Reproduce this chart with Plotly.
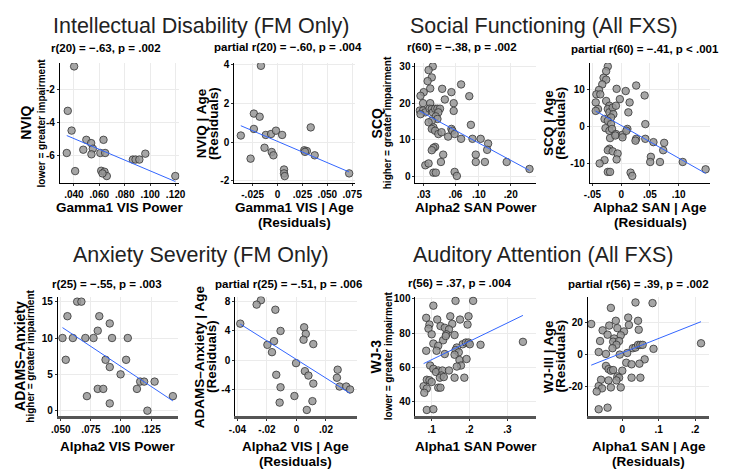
import numpy as np
import plotly.graph_objects as go

W, H = 733, 470

# ---------------- DATA ----------------
# Panel 1: Intellectual Disability (FM only) - raw
p1_x = [.0402, .0352, .0382, .0498, .0536, .0633, .0549, .0474, .0344, .0538, .0608,
        .0646, .0864, .0885, .0915, .0962, .0410, .0615, .0641, .0659, .1198, .0625]
p1_y = [-0.6, -3.3, -4.5, -5.06, -5.26, -5.06, -5.6, -5.66, -5.86, -5.94, -5.86,
        -5.86, -6.26, -6.26, -6.26, -5.9, -6.96, -6.94, -7.0, -7.26, -7.26, -7.1]
# Panel 2: residuals
p2_x = [-.0167, -.0238, -.0180, -.0369, -.0238, -.0118, -.0065, -.0016, .0046, -.0131, -.0059,
        -.0042, -.0271, .0333, .0268, .0294, .0373, .0065, .0065, .0072, .0719, .0275]
p2_y = [3.93, 1.47, 1.31, 0.34, 0.68, 0.37, 0.42, 0.59, 0.37, -0.29, -0.51,
        -0.68, -0.85, 0.76, -0.42, -0.46, -0.68, -1.41, -1.61, -1.75, -1.61, -0.5]
# Panel 3: Social functioning - raw (log x)
p3_x = [.0366, .0334, .0358, .0327, .0346, .0300, .0280, .0296, .0276, .0296, .0311, .0280,
        .0346, .0341, .0358, .0366, .0385, .0405, .0428, .0413, .0391, .0405, .0358, .0334,
        .0371, .0358, .0385, .0413, .0443, .0449, .0476, .0549, .0577, .0577, .0549, .0561,
        .0511, .0589, .0678, .0810, .0678, .0839, .0869, .1038, .0933, .0933, .1221, .1196,
        .1138, .1829, .3006, .0459, .0437, .0385, .0371, .0358, .0311, .0334, .0371, .0391,
        .0589, .0618]
p3_y = [30, 29, 27, 26, 24, 23, 22, 20, 18, 18, 17.5, 17,
        20, 18.5, 18.4, 17.5, 18.5, 18.5, 18.5, 17.5, 16.4, 15.7, 15.2, 14.8,
        13.4, 13, 12.5, 11.6, 12.1, 23.9, 21, 23, 20, 17.9, 13, 12.5,
        10.9, 11.6, 25.1, 21.9, 10.3, 14.1, 10.3, 10.3, 6, 4, 9, 7.3,
        4, 4, 2.1, 6, 4, 8.1, 7.8, 7.2, 3.1, 3.6, 1.1, 1.1,
        1.3, 0.2]
# Panel 4: residuals
p4_x = [-.0232, -.0261, -.0306, -.0261, -.0329, -.0385, -.0431, -.0363, -.0442, -.0403,
        -.0442, -.0261, -.0204, -.0232, -.0204, -.0147, -.0136, -.0091, -.0176, -.0289,
        -.0232, -.0176, -.0272, -.0204, -.0159, -.0091, -.0193, -.0102, .0023, -.0079,
        -.0023, .0079, .0147, .0125, .0108, .0091, .0023, .0261, .0408, .0261,
        .0420, .0420, .0561, .0516, .0505, .0748, .0731, .0675, .1071, .1468,
        -.0204, -.0232, -.0147, -.0062, -.0079, -.0289, -.0374, -.0232, -.0193, .0164,
        .0193, .0249]
p4_y = [16.3, 15.0, 13.2, 12.7, 11.4, 9.9, 8.7, 8.7, 6.5, 4.7,
        4.2, 6.9, 5.6, 4.7, 3.8, 5.1, 3.3, 5.6, 2.4, 2.0,
        1.5, 0.6, -0.5, -1.2, -0.7, -2.1, -3.2, -2.5, -2.3, 10.2,
        7.4, 9.6, 6.5, 3.8, -0.7, -1.2, -3.0, 11.1, 8.4, -3.4,
        0.6, -3.4, -4.3, -8.3, -9.7, -4.5, -6.5, -9.7, -9.7, -11.7,
        -6.1, -6.5, -6.8, -7.4, -9.0, -9.2, -10.1, -12.4, -12.4, -12.6,
        -13.5, -3.9]
# Panel 5: Anxiety severity - raw
p5_x = [.0636, .0671, .0555, .0820, .0907, .0807, .0514, .0600, .0704, .0772, .0926,
        .1057, .0541, .0872, .1043, .0907, .0997, .1160, .1193, .1280, .1133, .0807,
        .0853, .0717, .0907, .1432, .1220]
p5_y = [15, 15, 13, 13, 12, 11, 10, 10, 10, 10, 10,
        10, 7, 7, 7, 6, 5, 4, 4, 4, 3, 3,
        3, 2, 1, 2, 0]
# Panel 6: residuals
p6_x = [-.0241, -.0270, -.0143, -.0381, -.0108, -.0152, -.0197, -.0166, .0052, .0063,
        .0048, .0114, -.0003, .0057, .0081, -.0137, -.0108, .0114, -.0014, -.0114,
        .0108, .0070, .0279, .0274, .0292, .0337, .0363]
p6_y = [8.2, 7.6, 6.9, 5.0, 4.0, 2.6, 2.1, 1.1, 4.5, 3.6,
        2.8, 2.2, -0.4, -1.5, -2.1, -2.0, -3.7, -3.2, -4.9, -5.8,
        -5.6, -6.8, -1.3, -2.4, -3.6, -3.6, -4.0]
# Panel 7: Auditory attention - raw
p7_x = [.1044, .1630, .2096, .0855, .1147, .1491, .1974, .1749, .0941, .1233,
        .1543, .1948, .0915, .1000, .1346, .1457, .1388, .1302, .1044, .1173,
        .1372, .1605, .1819, .1904, .1974, .2008, .2292, .3413, .0855, .1129,
        .1346, .1664, .1630, .1716, .1605, .1734, .1922, .0959, .1044, .1173,
        .1114, .1284, .1457, .1775, .1664, .1258, .1217, .1320, .1605, .1863,
        .0871, .0941, .1000, .0786, .0871, .1173, .1233, .0804, .0871, .1044]
p7_y = [96.0, 98.8, 98.8, 88.9, 87.9, 89.8, 89.8, 87.9, 85.0, 84.1,
        85.4, 85.0, 82.6, 79.3, 83.1, 82.2, 79.3, 75.8, 73.9, 72.6,
        78.3, 78.9, 73.5, 74.5, 74.5, 73.5, 73.2, 74.9, 69.7, 69.7,
        67.8, 71.6, 70.1, 68.8, 67.4, 64.3, 64.9, 61.1, 59.2, 58.2,
        57.3, 58.2, 58.2, 61.1, 60.5, 55.3, 54.0, 54.4, 54.0, 54.0,
        52.8, 52.5, 51.5, 49.0, 47.7, 48.2, 48.2, 45.2, 35.2, 35.6]
# Panel 8: residuals
p8_x = [-.0314, .0362, .0830, -.0178, .0162, .0432, -.0854, -.0359, -.0135, .0181,
        .0451, -.0541, -.0405, .0046, -.0043, -.0224, -.0611, -.0251, -.0089, -.0162,
        -.0270, -.0649, -.0449, -.0070, .0135, .0289, .0362, .0432, .0497, .0559,
        .0857, .2162, .0614, .0108, .0254, .0470, -.0449, -.0378, -.0314, -.0251,
        .0000, -.0135, -.0089, -.0162, -.0584, -.0649, -.0557, -.0378, -.0314, -.0043,
        .0254, .0497, -.0649, -.0405, -.0703]
p8_y = [29.3, 32.7, 32.3, 21.2, 23.2, 21.2, 19.2, 18.2, 16.6, 18.6,
        15.6, 15.2, 12.5, 14.5, 12.1, 10.1, 8.5, 8.1, 8.5, 6.1,
        4.0, 1.6, 0.4, 0.0, 1.0, 4.0, 4.4, 6.1, 6.1, 6.1,
        3.6, 7.1, -3.0, -5.1, -6.1, -5.7, -7.1, -9.1, -10.1, -9.7,
        -10.1, -13.7, -14.5, -16.2, -15.8, -19.8, -21.2, -16.2, -20.6, -20.6,
        -14.5, -14.5, -34.3, -33.3, -23.2]

# Tick values / labels
p1_xt = [.04, .06, .08, .10, .12]; p1_xl = [".040", ".060", ".080", ".100", ".120"]
p1_yt = [-2, -4, -6];              p1_yl = ["-2", "-4", "-6"]
p2_xt = [-.025, 0, .025, .05, .075]; p2_xl = ["-.025", "0", ".025", ".050", ".075"]
p2_yt = [4, 2, 0, -2];             p2_yl = ["4", "2", "0", "-2"]
p3_xt = [.03, .06, .10, .20];      p3_xl = [".03", ".06", ".10", ".20"]
p3_yt = [0, 10, 20, 30];           p3_yl = ["0", "10", "20", "30"]
p4_xt = [-.05, 0, .05, .10];       p4_xl = ["-.05", "0", ".05", ".10"]
p4_yt = [10, 0, -10];              p4_yl = ["10", "0", "-10"]
p5_xt = [.05, .075, .10, .125];    p5_xl = [".050", ".075", ".100", ".125"]
p5_yt = [0, 5, 10, 15];            p5_yl = ["0", "5", "10", "15"]
p6_xt = [-.04, -.02, 0, .02];      p6_xl = ["-.04", "-.02", "0", ".02"]
p6_yt = [8, 4, 0, -4];             p6_yl = ["8", "4", "0", "-4"]
p7_xt = [.1, .2, .3];              p7_xl = [".1", ".2", ".3"]
p7_yt = [40, 60, 80, 100];         p7_yl = ["40", "60", "80", "100"]
p8_xt = [0, .1, .2];               p8_xl = ["0", ".1", ".2"]
p8_yt = [20, 0, -20];              p8_yl = ["20", "0", "-20"]

titles = ["Intellectual Disability (FM Only)", "Social Functioning (All FXS)",
          "Anxiety Severity (FM Only)", "Auditory Attention (All FXS)"]
subtitles = ["r(20) = \u2212.63, p = .002", "partial r(20) = \u2212.60, p = .004",
             "r(60) = \u2212.38, p = .002", "partial r(60) = \u2212.41, p < .001",
             "r(25) = \u2212.55, p = .003", "partial r(25) = \u2212.51, p = .006",
             "r(56) = .37, p = .004", "partial r(56) = .39, p = .002"]
ytitles = [("NVIQ", "lower = greater impairment"), ("NVIQ | Age", "(Residuals)"),
           ("SCQ", "higher = greater impairment"), ("SCQ | Age", "(Residuals)"),
           ("ADAMS\u2013Anxiety", "higher = greater impairment"), ("ADAMS\u2013Anxiety | Age", "(Residuals)"),
           ("WJ-3", "lower = greater impairment"), ("WJ-III | Age", "(Residuals)")]
xtitles = [("Gamma1 VIS Power", None), ("Gamma1 VIS | Age", "(Residuals)"),
           ("Alpha2 SAN Power", None), ("Alpha2 SAN | Age", "(Residuals)"),
           ("Alpha2 VIS Power", None), ("Alpha2 VIS | Age", "(Residuals)"),
           ("Alpha1 SAN Power", None), ("Alpha1 SAN | Age", "(Residuals)")]

# ---------------- LAYOUT ----------------
FONT = "Liberation Sans, Arial, sans-serif"
# panel boxes in px: (left, right, top, bottom)
boxes = [(54, 176, 60, 182), (232, 355, 60, 182), (417, 540, 60, 182), (595, 718, 60, 182),
         (52, 175, 297, 418), (233, 357, 297, 418), (417, 540, 297, 418), (593, 717, 297, 418)]
xranges = [[0.029, 0.123], [-0.0435, 0.0775], [np.log10(0.0251), np.log10(0.346)], [-0.0545, 0.155],
           [0.0476, 0.1478], [-0.0415, 0.0408], [0.0571, 0.3757], [-0.0946, 0.239]]
yranges = [[-7.7, -0.4], [-2.12, 4.07], [-1.8, 30.9], [-15.5, 17.2],
           [-0.7, 15.7], [-7.6, 8.7], [31.8, 101.3], [-38.4, 36.4]]
data = [(p1_x, p1_y), (p2_x, p2_y), (p3_x, p3_y), (p4_x, p4_y),
        (p5_x, p5_y), (p6_x, p6_y), (p7_x, p7_y), (p8_x, p8_y)]
ticks = [(p1_xt, p1_xl, p1_yt, p1_yl), (p2_xt, p2_xl, p2_yt, p2_yl),
         (p3_xt, p3_xl, p3_yt, p3_yl), (p4_xt, p4_xl, p4_yt, p4_yl),
         (p5_xt, p5_xl, p5_yt, p5_yl), (p6_xt, p6_xl, p6_yt, p6_yl),
         (p7_xt, p7_xl, p7_yt, p7_yl), (p8_xt, p8_xl, p8_yt, p8_yl)]
logx = [False, False, True, False, False, False, False, False]

def px(x):
    return x / W

def py(y):
    return 1 - y / H

fig = go.Figure()
layout = {}
annotations = []
TICKFONT = dict(family=FONT, size=10, color="black", weight="bold")

for i in range(8):
    n = i + 1
    xs, ys = np.asarray(data[i][0], float), np.asarray(data[i][1], float)
    xa = "x" if n == 1 else f"x{n}"
    ya = "y" if n == 1 else f"y{n}"
    fig.add_trace(go.Scatter(x=xs, y=ys, mode="markers", xaxis=xa, yaxis=ya,
                             marker=dict(size=7.5, color="rgba(150,150,150,0.85)",
                                         line=dict(color="#333333", width=0.8)),
                             showlegend=False, hoverinfo="skip"))
    xf = np.log10(xs) if logx[i] else xs
    b, a = np.polyfit(xf, ys, 1)
    lx = np.array([xf.min(), xf.max()])
    ly = a + b * lx
    fig.add_trace(go.Scatter(x=(10 ** lx) if logx[i] else lx, y=ly, mode="lines",
                             xaxis=xa, yaxis=ya, line=dict(color="#3366FF", width=1),
                             showlegend=False, hoverinfo="skip"))
    l, r, t, btm = boxes[i]
    bottom_row = i >= 4
    xt, xl, yt, yl = ticks[i]
    layout[f"xaxis{n}"] = dict(domain=[px(l), px(r)], anchor=ya, range=xranges[i],
                               type="log" if logx[i] else "linear",
                               tickvals=xt, ticktext=xl, showgrid=True, gridcolor="#ebebeb",
                               gridwidth=1, zeroline=False, showline=True,
                               linecolor="#555555" if bottom_row else "black",
                               linewidth=3 if bottom_row else 1,
                               ticks="outside", ticklen=2, tickcolor="#333333",
                               tickfont=TICKFONT, fixedrange=True)
    layout[f"yaxis{n}"] = dict(domain=[py(btm), py(t)], anchor=xa, range=yranges[i],
                               tickvals=yt, ticktext=yl, showgrid=True, gridcolor="#ebebeb",
                               gridwidth=1, zeroline=False, showline=True, linecolor="black",
                               linewidth=1, ticks="outside", ticklen=2, tickcolor="#333333",
                               tickfont=TICKFONT, fixedrange=True)

# titles
title_pos = [(198, 22), (548, 22), (198, 255), (548, 255)]
for txt, (x, y) in zip(titles, title_pos):
    annotations.append(dict(text=txt, x=px(x), y=py(y), xref="paper", yref="paper",
                            showarrow=False, xanchor="center", yanchor="middle",
                            font=dict(family=FONT, size=21.5, color="#222222")))

sub_pos = [(101, 45), (287, 44), (465, 44), (651, 46), (102, 284), (287, 284), (462, 283), (645, 284)]
for txt, (x, y) in zip(subtitles, sub_pos):
    annotations.append(dict(text=txt, x=px(x), y=py(y), xref="paper", yref="paper",
                            showarrow=False, xanchor="center", yanchor="middle",
                            font=dict(family=FONT, size=11.5, color="black", weight="bold")))

# y-axis titles (two lines)
ytitle_x = [(20, 35), (198, 210), (378, 388), (553, 565), (13, 24), (196, 208), (377, 389), (552, 565)]
for i, ((main, sub), (x1, x2)) in enumerate(zip(ytitles, ytitle_x)):
    l, r, t, btm = boxes[i]
    yc = (t + btm) / 2
    residual = (i % 2 == 1)
    annotations.append(dict(text=main, x=px(x1), y=py(yc), xref="paper", yref="paper",
                            showarrow=False, textangle=-90, xanchor="center", yanchor="middle",
                            font=dict(family=FONT, size=13.5 if residual else 14, color="black",
                                      weight="bold")))
    annotations.append(dict(text=sub, x=px(x2), y=py(yc), xref="paper", yref="paper",
                            showarrow=False, textangle=-90, xanchor="center", yanchor="middle",
                            font=dict(family=FONT, size=13.5 if residual else 10, color="black",
                                      weight="bold")))

# x-axis titles
for i, (main, sub) in enumerate(xtitles):
    l, r, t, btm = boxes[i]
    xc = (l + r) / 2
    y1 = btm + 25 if i < 4 else btm + 31
    annotations.append(dict(text=main, x=px(xc), y=py(y1), xref="paper", yref="paper",
                            showarrow=False, xanchor="center", yanchor="middle",
                            font=dict(family=FONT, size=13.5, color="black", weight="bold")))
    if sub:
        annotations.append(dict(text=sub, x=px(xc), y=py(y1 + 15), xref="paper", yref="paper",
                                showarrow=False, xanchor="center", yanchor="middle",
                                font=dict(family=FONT, size=13.5, color="black", weight="bold")))

fig.update_layout(width=W, height=H, margin=dict(l=0, r=0, t=0, b=0),
                  paper_bgcolor="white", plot_bgcolor="white",
                  annotations=annotations, **layout)

fig.write_html("out.html")
